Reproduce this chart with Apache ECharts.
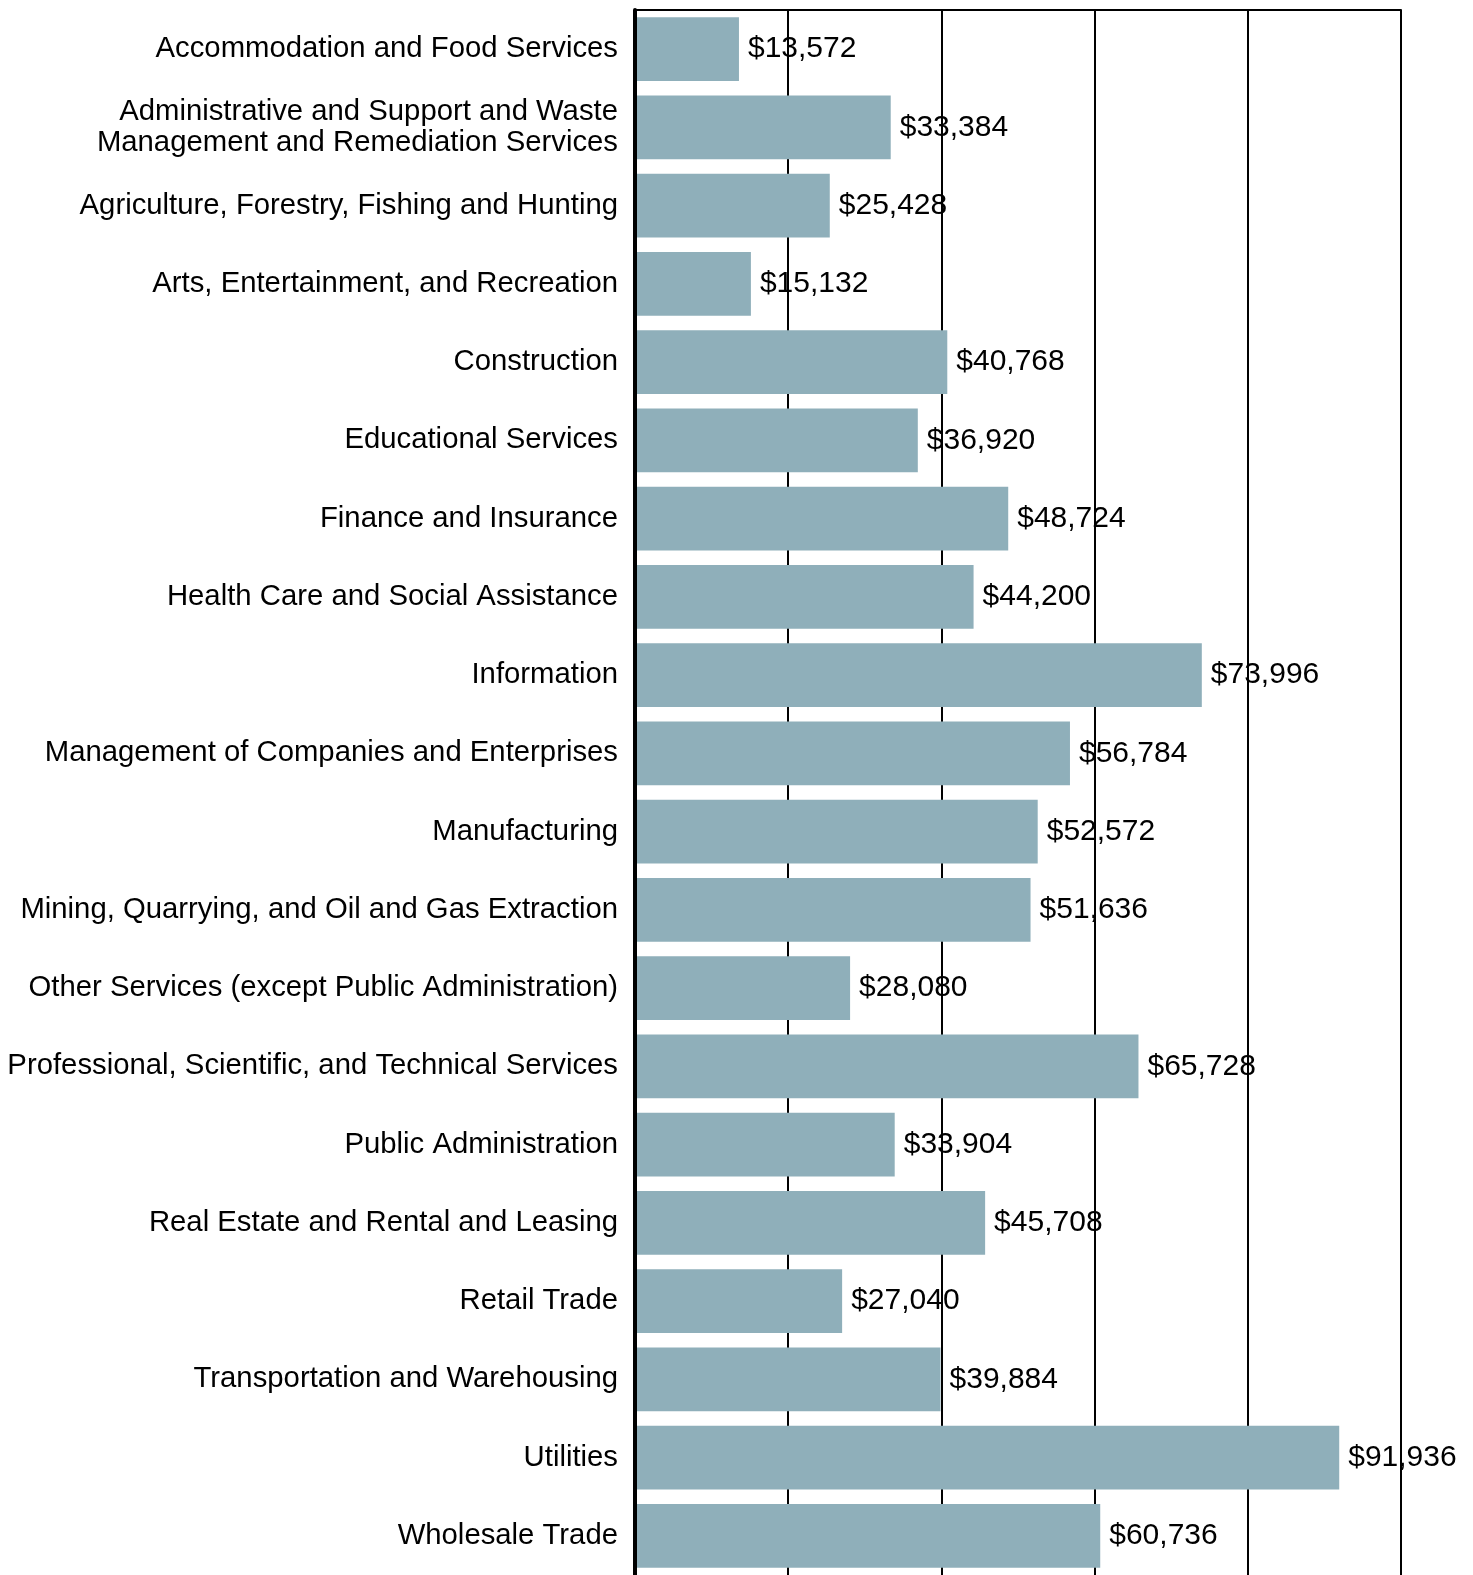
<!DOCTYPE html>
<html>
<head>
<meta charset="utf-8">
<script src="https://cdn.jsdelivr.net/npm/echarts@6/dist/echarts.min.js"></script>
<style>
  html, body { margin: 0; padding: 0; background: #fff; }
  #chart { width: 1473px; height: 1575px; }
</style>
</head>
<body>
<div id="chart"></div>
<script>
const industries = [
    'Accommodation and Food Services',
    'Administrative and Support and Waste\nManagement and Remediation Services',
    'Agriculture, Forestry, Fishing and Hunting',
    'Arts, Entertainment, and Recreation',
    'Construction',
    'Educational Services',
    'Finance and Insurance',
    'Health Care and Social Assistance',
    'Information',
    'Management of Companies and Enterprises',
    'Manufacturing',
    'Mining, Quarrying, and Oil and Gas Extraction',
    'Other Services (except Public Administration)',
    'Professional, Scientific, and Technical Services',
    'Public Administration',
    'Real Estate and Rental and Leasing',
    'Retail Trade',
    'Transportation and Warehousing',
    'Utilities',
    'Wholesale Trade'
];
const earnings = [
    13572, 33384, 25428, 15132, 40768, 36920, 48724, 44200, 73996, 56784,
    52572, 51636, 28080, 65728, 33904, 45708, 27040, 39884, 91936, 60736
];

const barColor = '#8fafba';
const fontFamily = '"Liberation Sans", Arial, sans-serif';

const money = v => '$' + v.toLocaleString('en-US');

const chart = echarts.init(document.getElementById('chart'));
chart.setOption({
    animation: false,
    grid: {
        left: 635,
        right: 72,
        top: 10,
        height: 1568,
        containLabel: false
    },
    xAxis: {
        type: 'value',
        position: 'top',
        min: 0,
        max: 100000,
        interval: 20000,
        z: 2,
        axisLine: { show: true, lineStyle: { color: '#000', width: 2 } },
        axisTick: { show: false },
        axisLabel: { show: false },
        splitLine: { show: true, lineStyle: { color: '#000', width: 2 } }
    },
    yAxis: {
        type: 'category',
        inverse: true,
        data: industries,
        z: 4,
        axisLine: { show: true, lineStyle: { color: '#000', width: 4 } },
        axisTick: { show: false },
        axisLabel: {
            color: '#000',
            fontFamily: fontFamily,
            fontSize: 29.3,
            lineHeight: 31,
            margin: 17,
            align: 'right',
            padding: [4, 0, 0, 0]
        }
    },
    series: [
        {
            // bars sit above the grid lines
            type: 'bar',
            data: earnings,
            z: 3,
            barCategoryGap: '18.4%',
            itemStyle: { color: barColor },
            silent: true
        },
        {
            // value labels sit below the grid lines, as in the original
            type: 'bar',
            data: earnings,
            z: 1,
            barGap: '-100%',
            barCategoryGap: '18.4%',
            itemStyle: { color: 'rgba(0,0,0,0)' },
            label: {
                show: true,
                position: 'right',
                distance: 9,
                color: '#000',
                fontFamily: fontFamily,
                fontSize: 30,
                padding: [3, 0, 0, 0],
                formatter: p => money(p.value)
            },
            silent: true
        }
    ]
});
</script>
</body>
</html>
